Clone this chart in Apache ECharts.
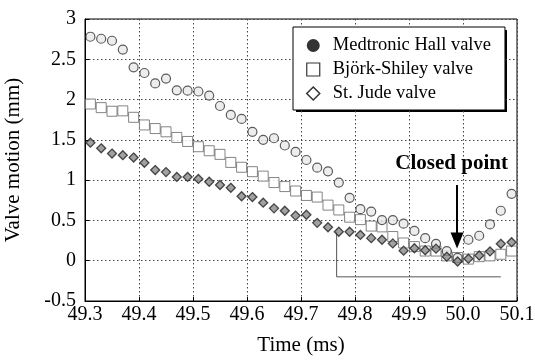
<!DOCTYPE html>
<html>
<head>
<meta charset="utf-8">
<script src="https://cdn.jsdelivr.net/npm/echarts@6/dist/echarts.min.js"></script>
<style>html,body{margin:0;padding:0;background:#fff;}#c{width:535px;height:362px;}</style>
</head>
<body>
<div id="c"></div>
<script>
var times = [49.31,49.33,49.35,49.37,49.39,49.41,49.43,49.45,49.47,49.49,49.51,49.53,49.55,49.57,49.59,49.61,49.63,49.65,49.67,49.69,49.71,49.73,49.75,49.77,49.79,49.81,49.83,49.85,49.87,49.89,49.91,49.93,49.95,49.97,49.99,50.01,50.03,50.05,50.07,50.09];
var medtronic = [2.78,2.755,2.73,2.62,2.40,2.33,2.20,2.26,2.115,2.11,2.10,2.05,1.92,1.81,1.76,1.60,1.50,1.52,1.43,1.35,1.25,1.155,1.11,0.97,0.78,0.64,0.61,0.505,0.505,0.46,0.37,0.28,0.21,0.12,0.035,0.26,0.31,0.45,0.62,0.83];
var bjork = [1.945,1.90,1.855,1.86,1.78,1.685,1.64,1.60,1.53,1.48,1.415,1.365,1.32,1.22,1.16,1.105,1.05,0.97,0.92,0.865,0.81,0.79,0.69,0.63,0.54,0.51,0.43,0.42,0.30,0.22,0.175,0.12,0.12,0.06,0.04,0.02,0.05,0.06,0.08,0.12];
var stjude = [1.465,1.395,1.33,1.31,1.28,1.215,1.125,1.10,1.04,1.04,1.015,0.98,0.94,0.905,0.80,0.79,0.72,0.65,0.62,0.56,0.57,0.47,0.415,0.36,0.36,0.32,0.28,0.26,0.215,0.125,0.155,0.13,0.15,0.05,-0.01,0.025,0.065,0.115,0.21,0.23];
var seriesNames = ['Medtronic Hall valve','Björk-Shiley valve','St. Jude valve'];
var xTicks = [49.3,49.4,49.5,49.6,49.7,49.8,49.9,50.0,50.1];
var yTicks = [-0.5,0,0.5,1,1.5,2,2.5,3];
var bracketX = [49.766,49.766,50.07];
var bracketY = [0.36,-0.2,-0.2];
var arrowFrom = [49.989,0.94];
var arrowTo = [49.989,0.25];
var noteText = 'Closed point';
var notePos = [49.979,1.21];

function pairs(xs, ys){ return xs.map(function(x,i){ return [x, ys[i]]; }); }

var FONT = 'Liberation Serif';
var chart = echarts.init(document.getElementById('c'), null, {renderer:'canvas'});
chart.setOption({
  animation:false,
  backgroundColor:'#fff',
  textStyle:{fontFamily:FONT},
  grid:{left:85,right:18,top:19,bottom:61,show:true,borderColor:'#000',borderWidth:1,containLabel:false,outerBoundsMode:'none'},
  graphic:[{
    type:'rect', left:296, top:30, shape:{width:211,height:82}, style:{fill:'#000'}, z:0, zlevel:0, silent:true
  }],
  legend:{
    orient:'vertical', left:293, top:27,
    backgroundColor:'#fff', borderColor:'#000', borderWidth:1,
    padding:[9,14,7,13], itemGap:5, itemWidth:13, itemHeight:13, z:10,
    textStyle:{fontFamily:FONT,fontSize:18.5,color:'#000',padding:[0,0,0,8]},
    data:[
      {name:seriesNames[0], icon:'circle', itemStyle:{color:'#000',borderColor:'#000',borderWidth:0}},
      {name:seriesNames[1], icon:'rect', itemStyle:{color:'#fff',borderColor:'#000',borderWidth:1.2}},
      {name:seriesNames[2], icon:'diamond', itemStyle:{color:'#fff',borderColor:'#000',borderWidth:1.5}}
    ]
  },
  xAxis:{
    type:'value', min:xTicks[0], max:xTicks[xTicks.length-1], interval:0.1,
    name:'Time (ms)', nameLocation:'middle', nameGap:34,
    nameTextStyle:{fontFamily:FONT,fontSize:21,color:'#000'},
    axisLine:{show:true,onZero:false,lineStyle:{color:'#000'}},
    axisTick:{show:true,inside:true,length:4,lineStyle:{color:'#000'}},
    axisLabel:{fontFamily:FONT,fontSize:20,color:'#000',margin:4,formatter:function(v){return v.toFixed(1);}},
    splitLine:{show:true,lineStyle:{color:'#444',type:[1.5,2.5],width:1}}
  },
  yAxis:{
    type:'value', min:yTicks[0], max:yTicks[yTicks.length-1], interval:0.5,
    name:'Valve motion (mm)', nameLocation:'middle', nameGap:61, nameRotate:90,
    nameTextStyle:{fontFamily:FONT,fontSize:21,color:'#000'},
    axisLine:{show:true,onZero:false,lineStyle:{color:'#000'}},
    axisTick:{show:true,inside:true,length:4,lineStyle:{color:'#000'}},
    axisLabel:{fontFamily:FONT,fontSize:20,color:'#000',margin:9},
    splitLine:{show:true,lineStyle:{color:'#444',type:[1.5,2.5],width:1}}
  },
  series:[
    {
      name:'bracket', type:'line', data:pairs(bracketX, bracketY), symbol:'none', silent:true,
      lineStyle:{color:'#555',width:1}, z:1
    },
    {
      name:seriesNames[1], type:'scatter', data:pairs(times,bjork), symbol:'rect', symbolSize:10,
      itemStyle:{color:'#fff',borderColor:'#666',borderWidth:1}, z:2
    },
    {
      name:seriesNames[0], type:'scatter', data:pairs(times,medtronic), symbol:'circle', symbolSize:9,
      itemStyle:{color:'#e8e8e8',borderColor:'#333',borderWidth:1.2}, z:3
    },
    {
      name:seriesNames[2], type:'scatter', data:pairs(times,stjude), symbol:'diamond', symbolSize:9,
      itemStyle:{color:'#8a8a8a',borderColor:'#222',borderWidth:1.3}, z:4
    },
    {
      name:'annot', type:'line', data:[], silent:true, z:5,
      markLine:{
        silent:true, symbol:['none','triangle'], symbolSize:[13,16], label:{show:false},
        lineStyle:{color:'#000',width:2,type:'solid'},
        data:[[{coord:arrowFrom},{coord:arrowTo}]]
      },
      markPoint:{
        silent:true, symbol:'circle', symbolSize:0,
        label:{show:true,formatter:noteText,fontFamily:FONT,fontSize:21,fontWeight:'bold',color:'#000',position:'inside'},
        data:[{coord:notePos}]
      }
    }
  ]
});
</script>
</body>
</html>
